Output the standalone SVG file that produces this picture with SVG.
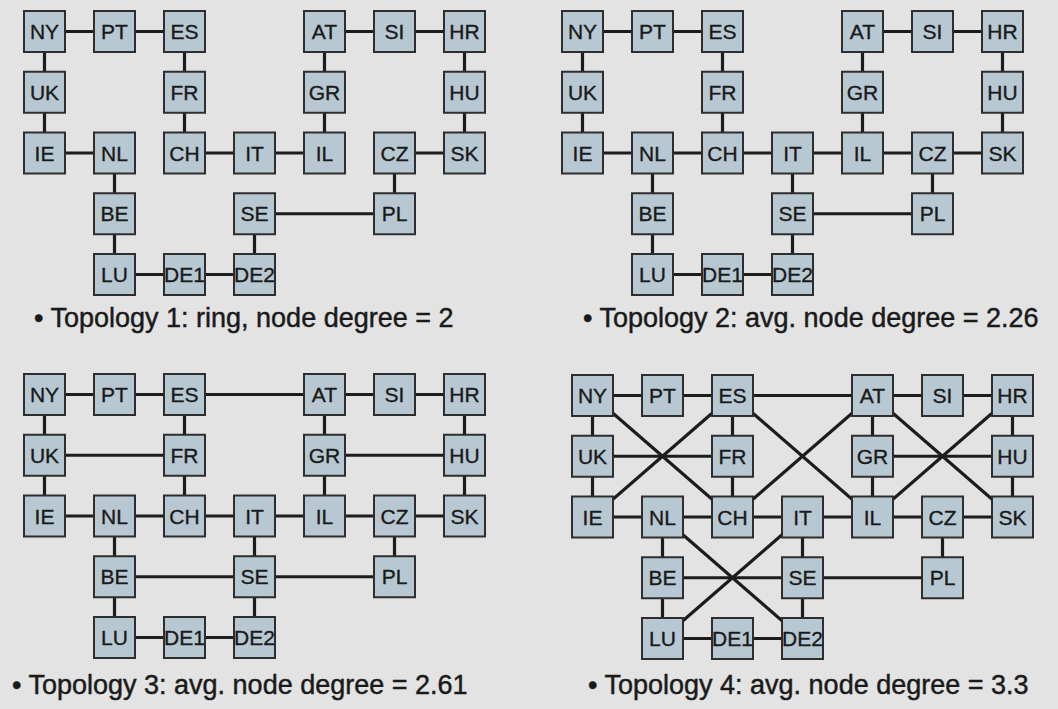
<svg xmlns="http://www.w3.org/2000/svg" xmlns:xlink="http://www.w3.org/1999/xlink" width="1058" height="709" viewBox="0 0 1058 709">
<style>
.bg{fill:#e3e3e3}
.edge{stroke:#1c1c1c;stroke-width:3.2;fill:none}
.box{fill:#b8c8d2;stroke:#2e2e2e;stroke-width:2}
.lbl{font-family:"Liberation Sans",Arial,sans-serif;font-size:21px;fill:#1a1a1a;stroke:#1a1a1a;stroke-width:0.35;text-anchor:middle}
.cap{font-family:"Liberation Sans",Arial,sans-serif;font-size:27px;fill:#1a1a1a;stroke:#1a1a1a;stroke-width:0.45}
</style>
<defs>
<g id="ring">
<line x1="20.5" y1="20.5" x2="90.5" y2="20.5"/>
<line x1="90.5" y1="20.5" x2="160.5" y2="20.5"/>
<line x1="160.5" y1="20.5" x2="160.5" y2="81.25"/>
<line x1="160.5" y1="81.25" x2="160.5" y2="142"/>
<line x1="160.5" y1="142" x2="230.5" y2="142"/>
<line x1="230.5" y1="142" x2="300.5" y2="142"/>
<line x1="300.5" y1="142" x2="300.5" y2="81.25"/>
<line x1="300.5" y1="81.25" x2="300.5" y2="20.5"/>
<line x1="300.5" y1="20.5" x2="370.5" y2="20.5"/>
<line x1="370.5" y1="20.5" x2="440.5" y2="20.5"/>
<line x1="440.5" y1="20.5" x2="440.5" y2="81.25"/>
<line x1="440.5" y1="81.25" x2="440.5" y2="142"/>
<line x1="440.5" y1="142" x2="370.5" y2="142"/>
<line x1="370.5" y1="142" x2="370.5" y2="202.75"/>
<line x1="370.5" y1="202.75" x2="230.5" y2="202.75"/>
<line x1="230.5" y1="202.75" x2="230.5" y2="263.5"/>
<line x1="230.5" y1="263.5" x2="160.5" y2="263.5"/>
<line x1="160.5" y1="263.5" x2="90.5" y2="263.5"/>
<line x1="90.5" y1="263.5" x2="90.5" y2="202.75"/>
<line x1="90.5" y1="202.75" x2="90.5" y2="142"/>
<line x1="90.5" y1="142" x2="20.5" y2="142"/>
<line x1="20.5" y1="142" x2="20.5" y2="81.25"/>
<line x1="20.5" y1="81.25" x2="20.5" y2="20.5"/>
</g>
<g id="add2">
<line x1="90.5" y1="142" x2="160.5" y2="142"/>
<line x1="300.5" y1="142" x2="370.5" y2="142"/>
<line x1="230.5" y1="142" x2="230.5" y2="202.75"/>
</g>
<g id="add3">
<line x1="160.5" y1="20.5" x2="300.5" y2="20.5"/>
<line x1="20.5" y1="81.25" x2="160.5" y2="81.25"/>
<line x1="300.5" y1="81.25" x2="440.5" y2="81.25"/>
<line x1="90.5" y1="202.75" x2="230.5" y2="202.75"/>
</g>
<g id="add4">
<line x1="20.5" y1="20.5" x2="160.5" y2="142"/>
<line x1="20.5" y1="142" x2="160.5" y2="20.5"/>
<line x1="160.5" y1="20.5" x2="300.5" y2="142"/>
<line x1="160.5" y1="142" x2="300.5" y2="20.5"/>
<line x1="300.5" y1="20.5" x2="440.5" y2="142"/>
<line x1="300.5" y1="142" x2="440.5" y2="20.5"/>
<line x1="90.5" y1="142" x2="230.5" y2="263.5"/>
<line x1="90.5" y1="263.5" x2="230.5" y2="142"/>
</g>
<rect id="b" class="box" width="41" height="41"/>
</defs>
<rect class="bg" width="1058" height="709"/>

<g id="connectors" class="edge">
<g id="conn-t1" transform="translate(24,11)"><use xlink:href="#ring"/></g>
<g id="conn-t2" transform="translate(562,11)"><use xlink:href="#ring"/><use xlink:href="#add2"/></g>
<g id="conn-t3" transform="translate(24,374)"><use xlink:href="#ring"/><use xlink:href="#add2"/><use xlink:href="#add3"/></g>
<g id="conn-t4" transform="translate(572,375)"><use xlink:href="#ring"/><use xlink:href="#add2"/><use xlink:href="#add3"/><use xlink:href="#add4"/></g>
</g>

<g id="topology1" transform="translate(24,11)">
<g id="t1-NY" transform="translate(0,0)"><use xlink:href="#b"/><text class="lbl" x="20.5" y="28">NY</text></g>
<g id="t1-PT" transform="translate(70,0)"><use xlink:href="#b"/><text class="lbl" x="20.5" y="28">PT</text></g>
<g id="t1-ES" transform="translate(140,0)"><use xlink:href="#b"/><text class="lbl" x="20.5" y="28">ES</text></g>
<g id="t1-AT" transform="translate(280,0)"><use xlink:href="#b"/><text class="lbl" x="20.5" y="28">AT</text></g>
<g id="t1-SI" transform="translate(350,0)"><use xlink:href="#b"/><text class="lbl" x="20.5" y="28">SI</text></g>
<g id="t1-HR" transform="translate(420,0)"><use xlink:href="#b"/><text class="lbl" x="20.5" y="28">HR</text></g>
<g id="t1-UK" transform="translate(0,60.75)"><use xlink:href="#b"/><text class="lbl" x="20.5" y="28">UK</text></g>
<g id="t1-FR" transform="translate(140,60.75)"><use xlink:href="#b"/><text class="lbl" x="20.5" y="28">FR</text></g>
<g id="t1-GR" transform="translate(280,60.75)"><use xlink:href="#b"/><text class="lbl" x="20.5" y="28">GR</text></g>
<g id="t1-HU" transform="translate(420,60.75)"><use xlink:href="#b"/><text class="lbl" x="20.5" y="28">HU</text></g>
<g id="t1-IE" transform="translate(0,121.5)"><use xlink:href="#b"/><text class="lbl" x="20.5" y="28">IE</text></g>
<g id="t1-NL" transform="translate(70,121.5)"><use xlink:href="#b"/><text class="lbl" x="20.5" y="28">NL</text></g>
<g id="t1-CH" transform="translate(140,121.5)"><use xlink:href="#b"/><text class="lbl" x="20.5" y="28">CH</text></g>
<g id="t1-IT" transform="translate(210,121.5)"><use xlink:href="#b"/><text class="lbl" x="20.5" y="28">IT</text></g>
<g id="t1-IL" transform="translate(280,121.5)"><use xlink:href="#b"/><text class="lbl" x="20.5" y="28">IL</text></g>
<g id="t1-CZ" transform="translate(350,121.5)"><use xlink:href="#b"/><text class="lbl" x="20.5" y="28">CZ</text></g>
<g id="t1-SK" transform="translate(420,121.5)"><use xlink:href="#b"/><text class="lbl" x="20.5" y="28">SK</text></g>
<g id="t1-BE" transform="translate(70,182.25)"><use xlink:href="#b"/><text class="lbl" x="20.5" y="28">BE</text></g>
<g id="t1-SE" transform="translate(210,182.25)"><use xlink:href="#b"/><text class="lbl" x="20.5" y="28">SE</text></g>
<g id="t1-PL" transform="translate(350,182.25)"><use xlink:href="#b"/><text class="lbl" x="20.5" y="28">PL</text></g>
<g id="t1-LU" transform="translate(70,243)"><use xlink:href="#b"/><text class="lbl" x="20.5" y="28">LU</text></g>
<g id="t1-DE1" transform="translate(140,243)"><use xlink:href="#b"/><text class="lbl" x="20.5" y="28">DE1</text></g>
<g id="t1-DE2" transform="translate(210,243)"><use xlink:href="#b"/><text class="lbl" x="20.5" y="28">DE2</text></g>
</g>

<g id="topology2" transform="translate(562,11)">
<g id="t2-NY" transform="translate(0,0)"><use xlink:href="#b"/><text class="lbl" x="20.5" y="28">NY</text></g>
<g id="t2-PT" transform="translate(70,0)"><use xlink:href="#b"/><text class="lbl" x="20.5" y="28">PT</text></g>
<g id="t2-ES" transform="translate(140,0)"><use xlink:href="#b"/><text class="lbl" x="20.5" y="28">ES</text></g>
<g id="t2-AT" transform="translate(280,0)"><use xlink:href="#b"/><text class="lbl" x="20.5" y="28">AT</text></g>
<g id="t2-SI" transform="translate(350,0)"><use xlink:href="#b"/><text class="lbl" x="20.5" y="28">SI</text></g>
<g id="t2-HR" transform="translate(420,0)"><use xlink:href="#b"/><text class="lbl" x="20.5" y="28">HR</text></g>
<g id="t2-UK" transform="translate(0,60.75)"><use xlink:href="#b"/><text class="lbl" x="20.5" y="28">UK</text></g>
<g id="t2-FR" transform="translate(140,60.75)"><use xlink:href="#b"/><text class="lbl" x="20.5" y="28">FR</text></g>
<g id="t2-GR" transform="translate(280,60.75)"><use xlink:href="#b"/><text class="lbl" x="20.5" y="28">GR</text></g>
<g id="t2-HU" transform="translate(420,60.75)"><use xlink:href="#b"/><text class="lbl" x="20.5" y="28">HU</text></g>
<g id="t2-IE" transform="translate(0,121.5)"><use xlink:href="#b"/><text class="lbl" x="20.5" y="28">IE</text></g>
<g id="t2-NL" transform="translate(70,121.5)"><use xlink:href="#b"/><text class="lbl" x="20.5" y="28">NL</text></g>
<g id="t2-CH" transform="translate(140,121.5)"><use xlink:href="#b"/><text class="lbl" x="20.5" y="28">CH</text></g>
<g id="t2-IT" transform="translate(210,121.5)"><use xlink:href="#b"/><text class="lbl" x="20.5" y="28">IT</text></g>
<g id="t2-IL" transform="translate(280,121.5)"><use xlink:href="#b"/><text class="lbl" x="20.5" y="28">IL</text></g>
<g id="t2-CZ" transform="translate(350,121.5)"><use xlink:href="#b"/><text class="lbl" x="20.5" y="28">CZ</text></g>
<g id="t2-SK" transform="translate(420,121.5)"><use xlink:href="#b"/><text class="lbl" x="20.5" y="28">SK</text></g>
<g id="t2-BE" transform="translate(70,182.25)"><use xlink:href="#b"/><text class="lbl" x="20.5" y="28">BE</text></g>
<g id="t2-SE" transform="translate(210,182.25)"><use xlink:href="#b"/><text class="lbl" x="20.5" y="28">SE</text></g>
<g id="t2-PL" transform="translate(350,182.25)"><use xlink:href="#b"/><text class="lbl" x="20.5" y="28">PL</text></g>
<g id="t2-LU" transform="translate(70,243)"><use xlink:href="#b"/><text class="lbl" x="20.5" y="28">LU</text></g>
<g id="t2-DE1" transform="translate(140,243)"><use xlink:href="#b"/><text class="lbl" x="20.5" y="28">DE1</text></g>
<g id="t2-DE2" transform="translate(210,243)"><use xlink:href="#b"/><text class="lbl" x="20.5" y="28">DE2</text></g>
</g>

<g id="topology3" transform="translate(24,374)">
<g id="t3-NY" transform="translate(0,0)"><use xlink:href="#b"/><text class="lbl" x="20.5" y="28">NY</text></g>
<g id="t3-PT" transform="translate(70,0)"><use xlink:href="#b"/><text class="lbl" x="20.5" y="28">PT</text></g>
<g id="t3-ES" transform="translate(140,0)"><use xlink:href="#b"/><text class="lbl" x="20.5" y="28">ES</text></g>
<g id="t3-AT" transform="translate(280,0)"><use xlink:href="#b"/><text class="lbl" x="20.5" y="28">AT</text></g>
<g id="t3-SI" transform="translate(350,0)"><use xlink:href="#b"/><text class="lbl" x="20.5" y="28">SI</text></g>
<g id="t3-HR" transform="translate(420,0)"><use xlink:href="#b"/><text class="lbl" x="20.5" y="28">HR</text></g>
<g id="t3-UK" transform="translate(0,60.75)"><use xlink:href="#b"/><text class="lbl" x="20.5" y="28">UK</text></g>
<g id="t3-FR" transform="translate(140,60.75)"><use xlink:href="#b"/><text class="lbl" x="20.5" y="28">FR</text></g>
<g id="t3-GR" transform="translate(280,60.75)"><use xlink:href="#b"/><text class="lbl" x="20.5" y="28">GR</text></g>
<g id="t3-HU" transform="translate(420,60.75)"><use xlink:href="#b"/><text class="lbl" x="20.5" y="28">HU</text></g>
<g id="t3-IE" transform="translate(0,121.5)"><use xlink:href="#b"/><text class="lbl" x="20.5" y="28">IE</text></g>
<g id="t3-NL" transform="translate(70,121.5)"><use xlink:href="#b"/><text class="lbl" x="20.5" y="28">NL</text></g>
<g id="t3-CH" transform="translate(140,121.5)"><use xlink:href="#b"/><text class="lbl" x="20.5" y="28">CH</text></g>
<g id="t3-IT" transform="translate(210,121.5)"><use xlink:href="#b"/><text class="lbl" x="20.5" y="28">IT</text></g>
<g id="t3-IL" transform="translate(280,121.5)"><use xlink:href="#b"/><text class="lbl" x="20.5" y="28">IL</text></g>
<g id="t3-CZ" transform="translate(350,121.5)"><use xlink:href="#b"/><text class="lbl" x="20.5" y="28">CZ</text></g>
<g id="t3-SK" transform="translate(420,121.5)"><use xlink:href="#b"/><text class="lbl" x="20.5" y="28">SK</text></g>
<g id="t3-BE" transform="translate(70,182.25)"><use xlink:href="#b"/><text class="lbl" x="20.5" y="28">BE</text></g>
<g id="t3-SE" transform="translate(210,182.25)"><use xlink:href="#b"/><text class="lbl" x="20.5" y="28">SE</text></g>
<g id="t3-PL" transform="translate(350,182.25)"><use xlink:href="#b"/><text class="lbl" x="20.5" y="28">PL</text></g>
<g id="t3-LU" transform="translate(70,243)"><use xlink:href="#b"/><text class="lbl" x="20.5" y="28">LU</text></g>
<g id="t3-DE1" transform="translate(140,243)"><use xlink:href="#b"/><text class="lbl" x="20.5" y="28">DE1</text></g>
<g id="t3-DE2" transform="translate(210,243)"><use xlink:href="#b"/><text class="lbl" x="20.5" y="28">DE2</text></g>
</g>

<g id="topology4" transform="translate(572,375)">
<g id="t4-NY" transform="translate(0,0)"><use xlink:href="#b"/><text class="lbl" x="20.5" y="28">NY</text></g>
<g id="t4-PT" transform="translate(70,0)"><use xlink:href="#b"/><text class="lbl" x="20.5" y="28">PT</text></g>
<g id="t4-ES" transform="translate(140,0)"><use xlink:href="#b"/><text class="lbl" x="20.5" y="28">ES</text></g>
<g id="t4-AT" transform="translate(280,0)"><use xlink:href="#b"/><text class="lbl" x="20.5" y="28">AT</text></g>
<g id="t4-SI" transform="translate(350,0)"><use xlink:href="#b"/><text class="lbl" x="20.5" y="28">SI</text></g>
<g id="t4-HR" transform="translate(420,0)"><use xlink:href="#b"/><text class="lbl" x="20.5" y="28">HR</text></g>
<g id="t4-UK" transform="translate(0,60.75)"><use xlink:href="#b"/><text class="lbl" x="20.5" y="28">UK</text></g>
<g id="t4-FR" transform="translate(140,60.75)"><use xlink:href="#b"/><text class="lbl" x="20.5" y="28">FR</text></g>
<g id="t4-GR" transform="translate(280,60.75)"><use xlink:href="#b"/><text class="lbl" x="20.5" y="28">GR</text></g>
<g id="t4-HU" transform="translate(420,60.75)"><use xlink:href="#b"/><text class="lbl" x="20.5" y="28">HU</text></g>
<g id="t4-IE" transform="translate(0,121.5)"><use xlink:href="#b"/><text class="lbl" x="20.5" y="28">IE</text></g>
<g id="t4-NL" transform="translate(70,121.5)"><use xlink:href="#b"/><text class="lbl" x="20.5" y="28">NL</text></g>
<g id="t4-CH" transform="translate(140,121.5)"><use xlink:href="#b"/><text class="lbl" x="20.5" y="28">CH</text></g>
<g id="t4-IT" transform="translate(210,121.5)"><use xlink:href="#b"/><text class="lbl" x="20.5" y="28">IT</text></g>
<g id="t4-IL" transform="translate(280,121.5)"><use xlink:href="#b"/><text class="lbl" x="20.5" y="28">IL</text></g>
<g id="t4-CZ" transform="translate(350,121.5)"><use xlink:href="#b"/><text class="lbl" x="20.5" y="28">CZ</text></g>
<g id="t4-SK" transform="translate(420,121.5)"><use xlink:href="#b"/><text class="lbl" x="20.5" y="28">SK</text></g>
<g id="t4-BE" transform="translate(70,182.25)"><use xlink:href="#b"/><text class="lbl" x="20.5" y="28">BE</text></g>
<g id="t4-SE" transform="translate(210,182.25)"><use xlink:href="#b"/><text class="lbl" x="20.5" y="28">SE</text></g>
<g id="t4-PL" transform="translate(350,182.25)"><use xlink:href="#b"/><text class="lbl" x="20.5" y="28">PL</text></g>
<g id="t4-LU" transform="translate(70,243)"><use xlink:href="#b"/><text class="lbl" x="20.5" y="28">LU</text></g>
<g id="t4-DE1" transform="translate(140,243)"><use xlink:href="#b"/><text class="lbl" x="20.5" y="28">DE1</text></g>
<g id="t4-DE2" transform="translate(210,243)"><use xlink:href="#b"/><text class="lbl" x="20.5" y="28">DE2</text></g>
</g>

<g id="captions">
<text class="cap" x="34" y="327">• Topology 1: ring, node degree = 2</text>
<text class="cap" x="583" y="327">• Topology 2: avg. node degree = 2.26</text>
<text class="cap" x="12" y="694">• Topology 3: avg. node degree = 2.61</text>
<text class="cap" x="588" y="694">• Topology 4: avg. node degree = 3.3</text>
</g>
</svg>
